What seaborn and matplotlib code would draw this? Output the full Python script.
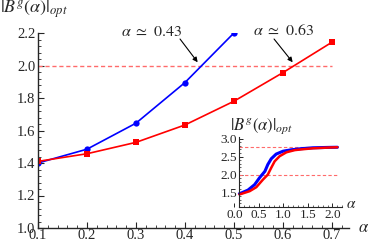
import numpy as np
import matplotlib
matplotlib.use("Agg")
import matplotlib.pyplot as plt
import seaborn as sns
from matplotlib.ticker import MultipleLocator

# ---- data ----
alpha_blue = [0.1, 0.2, 0.3, 0.4, 0.5]
b_blue = [1.40, 1.485, 1.645, 1.895, 2.20]
alpha_red = [0.1, 0.2, 0.3, 0.4, 0.5, 0.6, 0.7]
b_red = [1.41, 1.457, 1.527, 1.634, 1.78, 1.956, 2.143]
threshold = 2.0
cross_blue = 0.43
cross_red = 0.63
ann_blue = r"$\alpha\ \simeq\ 0.43$"
ann_red = r"$\alpha\ \simeq\ 0.63$"

inset_alpha_blue = [0.1, 0.14, 0.275, 0.41, 0.51, 0.62, 0.68, 0.75, 0.85, 0.99, 1.16, 1.36, 1.6, 1.9, 2.1]
inset_b_blue = [1.47, 1.49, 1.57, 1.72, 1.91, 2.09, 2.28, 2.44, 2.57, 2.65, 2.69, 2.72, 2.745, 2.755, 2.76]
inset_alpha_red = [0.1, 0.14, 0.31, 0.445, 0.58, 0.68, 0.75, 0.82, 0.92, 1.06, 1.23, 1.36, 1.6, 1.9, 2.1]
inset_b_red = [1.45, 1.465, 1.54, 1.65, 1.86, 2.0, 2.19, 2.37, 2.51, 2.62, 2.68, 2.70, 2.73, 2.75, 2.76]
inset_levels = [2.0, 2.76]

ylabel = r"$|B^g(\alpha)|_{opt}$"
xlabel = r"$\alpha$"

sns.set_style("ticks")
plt.rcParams["font.family"] = ["Liberation Serif", "DejaVu Serif"]
plt.rcParams["mathtext.fontset"] = "stix"
plt.rcParams["xtick.direction"] = "in"
plt.rcParams["ytick.direction"] = "in"

fig = plt.figure(figsize=(3.74, 2.42), dpi=100)
ax = fig.add_axes([38 / 374, 1 - 228 / 242, 311 / 374, 195 / 242])

red_dash = (1.0, 0.42, 0.42)
ax.hlines(threshold, min(alpha_red), max(alpha_red), colors=[red_dash], linestyles=(0, (3, 2)), lw=1.0)
sns.lineplot(x=alpha_blue, y=b_blue, ax=ax, color="blue", marker="o", markersize=4.5,
             markeredgewidth=0, lw=1.2)
sns.lineplot(x=alpha_red, y=b_red, ax=ax, color="red", marker="s", markersize=4,
             markeredgewidth=0, lw=1.2)

ax.set_xlim(0.1, 0.735)
ax.set_ylim(1.0, 2.2)
ax.xaxis.set_minor_locator(MultipleLocator(0.02))
ax.yaxis.set_minor_locator(MultipleLocator(0.04))
ax.set_xticks(alpha_red)
ax.set_xticklabels([f"{v:.1f}" for v in alpha_red])
yt = [1.0, 1.2, 1.4, 1.6, 1.8, 2.0, 2.2]
ax.set_yticks(yt)
ax.set_yticklabels([f"{v:.1f}" for v in yt])
for s in ["top", "right"]:
    ax.spines[s].set_visible(False)
for s in ["left", "bottom"]:
    ax.spines[s].set_linewidth(1.0)
ax.tick_params(which="major", length=4, width=0.8, labelsize=10.5)
ax.tick_params(axis="x", which="major", pad=1)
ax.tick_params(axis="y", which="major", pad=2)
ax.tick_params(which="minor", length=2, width=0.6)
ax.set_xlabel("")
ax.set_ylabel("")

fig.text(0.0, 1 - 10 / 242, ylabel, fontsize=13, ha="left", va="center")
fig.text(364 / 374, 1 - 228 / 242, xlabel, fontsize=12, ha="center", va="center")

# annotation texts
ax.text(0.332, 2.207, ann_blue, fontsize=11.5, ha="center", va="center")
ax.text(0.601, 2.212, ann_red, fontsize=11.5, ha="center", va="center")
arrow = dict(arrowstyle="-|>", color="black", lw=0.8, shrinkA=0, shrinkB=0, mutation_scale=7)
ax.annotate("", xy=(cross_blue - 0.004, threshold + 0.02), xytext=(0.39, 2.163), arrowprops=arrow)
ax.annotate("", xy=(cross_red - 0.01, threshold + 0.02), xytext=(0.582, 2.163), arrowprops=arrow)

# ---- inset ----
ins = fig.add_axes([234.5 / 374, 1 - 207 / 242, 107.8 / 374, 70.2 / 242])
ins.patch.set_alpha(0)
ins.hlines(inset_levels, 0.1, 2.1, colors=[red_dash], linestyles=(0, (3, 2)), lw=0.8)
sns.lineplot(x=inset_alpha_blue, y=inset_b_blue, ax=ins, color="blue", lw=2.2)
sns.lineplot(x=inset_alpha_red, y=inset_b_red, ax=ins, color="red", lw=1.8)
ins.set_xlim(0.0, 2.2)
ins.set_ylim(1.1, 3.05)
ins.spines["left"].set_position(("data", 0.1))
ins.spines["bottom"].set_bounds(0.1, 2.2)
ins.set_xticks([0.0, 0.5, 1.0, 1.5, 2.0])
ins.set_xticklabels(["0.0", "0.5", "1.0", "1.5", "2.0"])
ins.set_yticks([1.5, 2.0, 2.5, 3.0])
ins.set_yticklabels(["1.5", "2.0", "2.5", "3.0"])
ins.xaxis.set_minor_locator(MultipleLocator(0.1))
ins.yaxis.set_minor_locator(MultipleLocator(0.1))
for s in ["top", "right"]:
    ins.spines[s].set_visible(False)
ins.tick_params(which="major", length=3, width=0.7, labelsize=9.5, pad=1.5)
ins.tick_params(which="minor", length=1.5, width=0.5)
ins.set_xlabel("")
ins.set_ylabel("")
fig.text(262 / 374, 1 - 126 / 242, ylabel, fontsize=12, ha="center", va="center")
fig.text(351 / 374, 1 - 205 / 242, xlabel, fontsize=11, ha="center", va="center")

fig.savefig("out.png", dpi=100)
